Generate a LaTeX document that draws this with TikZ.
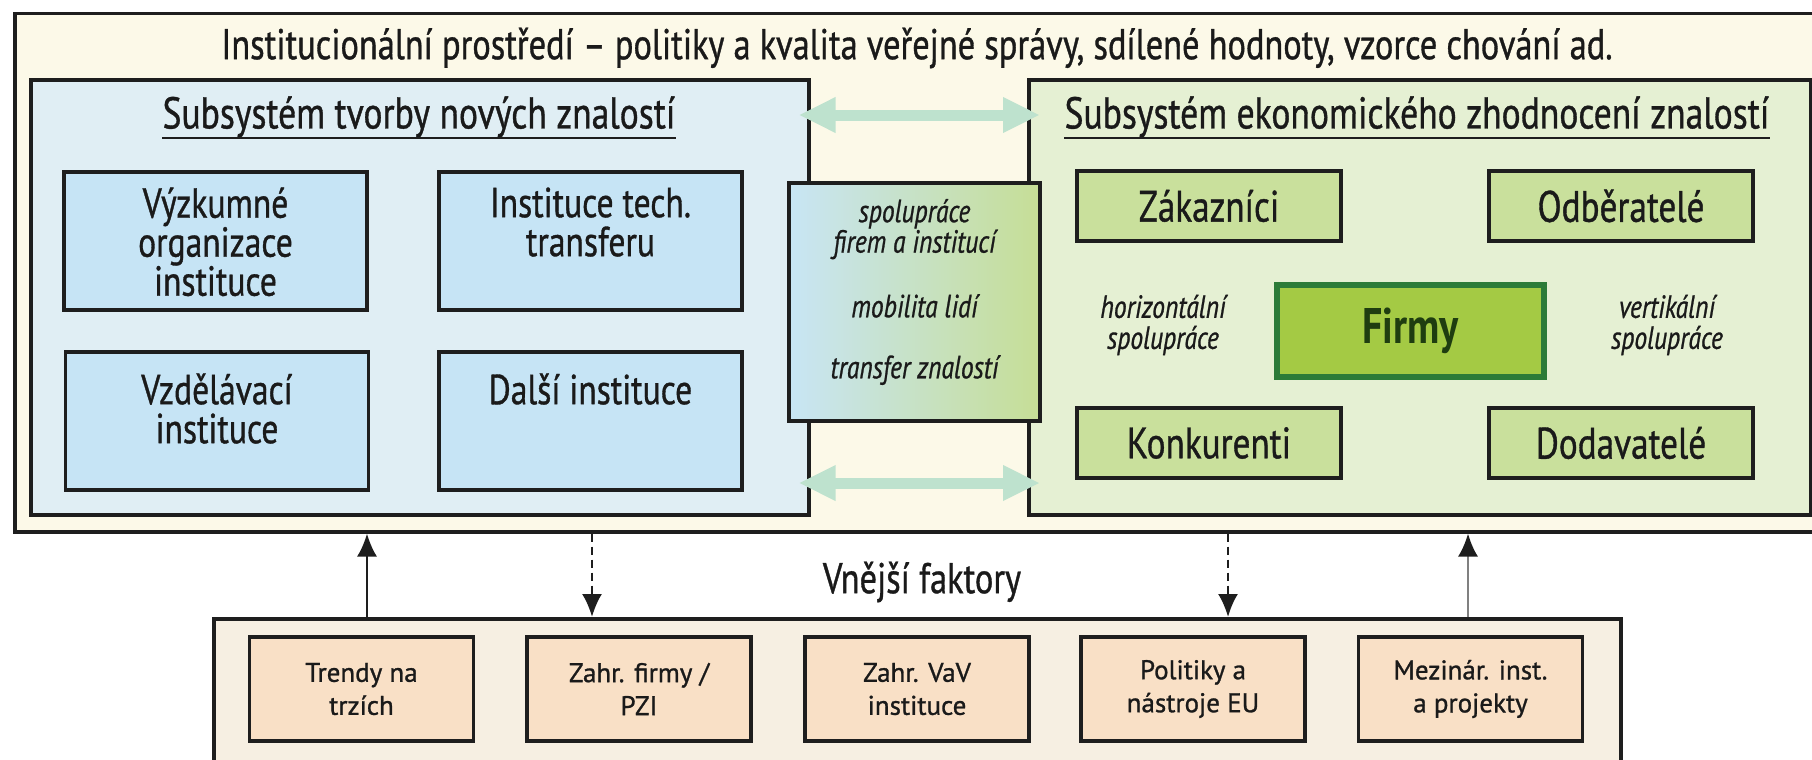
\documentclass[tikz,border=0pt]{standalone}
\usepackage{fontspec}
\setmainfont{PT Sans}[FakeStretch=0.8, UprightFeatures={FakeBold=0.8}, ItalicFeatures={FakeBold=0.8}]
\newfontfamily\extfont{PT Sans}[FakeBold=1]
\usetikzlibrary{positioning,arrows.meta}

\definecolor{edge}{HTML}{1E1E1E}
\definecolor{textcol}{HTML}{1A1A1A}
\definecolor{instback}{HTML}{FCF9E8}
\definecolor{subblue}{HTML}{E0EEF4}
\definecolor{boxblue}{HTML}{C6E4F5}
\definecolor{subgreen}{HTML}{E5F0D3}
\definecolor{boxgreen}{HTML}{C9E09C}
\definecolor{firmfill}{HTML}{A4CA44}
\definecolor{firmedge}{HTML}{2C7B38}
\definecolor{firmtext}{HTML}{1F3D10}
\definecolor{arrowmint}{HTML}{BEE2CE}
\definecolor{extback}{HTML}{F6EFE2}
\definecolor{boxpeach}{HTML}{F9E0C6}
\definecolor{midblue}{HTML}{C8E5F5}
\definecolor{midgreen}{HTML}{C6DE96}

\tikzset{
  bigbox/.style={draw=edge, line width=3.5pt, anchor=north west, inner sep=0pt},
  bluebox/.style={draw=edge, line width=3.5pt, fill=boxblue, minimum width=303pt, minimum height=138pt},
  greenbox/.style={draw=edge, line width=3.5pt, fill=boxgreen, minimum width=264pt, minimum height=70pt,
    text=textcol, font=\fontsize{44}{44}\selectfont},
  firmbox/.style={draw=firmedge, line width=6pt, fill=firmfill, minimum width=267pt, minimum height=92pt,
    text=firmtext, font=\bfseries\fontsize{50}{50}\selectfont},
  midbox/.style={draw=edge, line width=3.5pt, left color=midblue, right color=midgreen,
    minimum width=251pt, minimum height=238pt},
  extsmall/.style={draw=edge, line width=3.5pt, fill=boxpeach, minimum width=224pt, minimum height=104pt,
    align=center, text=textcol, font=\extfont\fontsize{27}{33}\selectfont},
  boxtext/.style={align=center, anchor=north, inner sep=0pt, text=textcol, font=\fontsize{42}{39}\selectfont},
  title/.style={inner sep=0pt, text=textcol, font=\fontsize{43}{44}\selectfont},
  subtitle/.style={inner sep=0pt, text=textcol, font=\fontsize{44.5}{44}\selectfont},
  midtext/.style={align=center, inner sep=0pt, text=textcol, font=\itshape\fontsize{32}{29}\selectfont},
  sidetext/.style={align=center, inner sep=0pt, text=textcol, font=\itshape\fontsize{32}{31}\selectfont},
  dblarrow/.style={draw=arrowmint, line width=11pt,
    {Triangle[length=37pt,width=33pt]}-{Triangle[length=37pt,width=33pt]}},
  uparrow/.style={draw=edge, line width=2.5pt, -{Latex[length=23pt,width=20pt,color=edge]}},
  downarrow/.style={draw=edge, line width=2.5pt, dash pattern=on 8pt off 5pt, -{Latex[length=23pt,width=20pt]}}
}

\begin{document}
\begin{tikzpicture}[x=1pt, y=-1pt]
    \useasboundingbox (0,0) rectangle (1812,760);
    % Containers
    \node[bigbox, fill=instback, minimum width=1817pt, minimum height=518pt] (inst) at (13,12) {};
    \node[bigbox, fill=subblue, minimum width=778pt, minimum height=435pt] (lsub) at (29,78) {};
    \node[bigbox, fill=subgreen, minimum width=782pt, minimum height=435pt] (rsub) at (1027,78) {};
    \node[bigbox, fill=extback, minimum width=1407pt, minimum height=180pt] (ext) at (212,617) {};

    % Titles
    \node[title] (insttitle) at (917,48) {Institucionální prostředí – politiky a kvalita veřejné správy, sdílené hodnoty, vzorce chování ad.};
    \node[subtitle] (ltitle) at (419,117) {Subsystém tvorby nových znalostí};
    \node[subtitle] (rtitle) at (1417,117) {Subsystém ekonomického zhodnocení znalostí};
    \draw[draw=edge, line width=2.5pt] (ltitle.south west) -- (ltitle.south east);
    \draw[draw=edge, line width=2.5pt] (rtitle.south west) -- (rtitle.south east);

    % Knowledge creation
    \node[bluebox] (vyzk) at (215.5,241) {};
    \node[bluebox] (tech) at (590.5,241) {};
    \node[bluebox] (vzdel) at (217,421) {};
    \node[bluebox] (dalsi) at (590.5,421) {};
    \node[boxtext, below=17pt of vyzk.north] (vyzktxt) {Výzkumné\\organizace\\instituce};
    \node[boxtext, below=17pt of tech.north] (techtxt) {Instituce tech.\\transferu};
    \node[boxtext, below=23pt of vzdel.north] (vzdeltxt) {Vzdělávací\\instituce};
    \node[boxtext, below=23pt of dalsi.north] (dalsitxt) {Další instituce};

    % Middle
    \node[midbox] (mid) at (914.5,302) {};
    \node[midtext] (midtxt) at (914.5,292) {spolupráce\\firem a institucí\\[34pt]mobilita lidí\\[32pt]transfer znalostí};

    % Economic use
    \node[greenbox] (zak) at (1209,206) {Zákazníci};
    \node[greenbox] (odb) at (1621,206) {Odběratelé};
    \node[greenbox] (konk) at (1209,443) {Konkurenti};
    \node[greenbox] (dod) at (1621,443) {Dodavatelé};
    \node[firmbox] (firmy) at (1410.5,331) {Firmy};
    \node[sidetext] (horiz) at (1163,325) {horizontální\\spolupráce};
    \node[sidetext] (vert) at (1667,325) {vertikální\\spolupráce};

    % Links between subsystems
    \coordinate (arrhi) at (0,115);
    \coordinate (arrlo) at (0,483);
    \draw[dblarrow] ([xshift=-12pt]lsub.east |- arrhi) -- ([xshift=13pt]rsub.west |- arrhi);
    \draw[dblarrow] ([xshift=-12pt]lsub.east |- arrlo) -- ([xshift=13pt]rsub.west |- arrlo);

    % External factors
    \node[title] (vnejsi) at (922,582) {Vnější faktory};
    \node[extsmall] (trendy) at (361.5,689) {Trendy na\\trzích};
    \node[extsmall] (zahrfirmy) at (639,689) {Zahr. firmy /\\PZI};
    \node[extsmall] (zahrvav) at (917,689) {Zahr. VaV\\instituce};
    \node[extsmall] (politiky) at (1193,689) {Politiky a\\nástroje EU};
    \node[extsmall] (mezinar) at (1470.5,689) {Mezinár. inst.\\a projekty};

    % Edges
    \coordinate (c1) at (367,0);
    \coordinate (c2) at (592,0);
    \coordinate (c3) at (1228,0);
    \coordinate (c4) at (1468,0);
    \draw[uparrow] (ext.north -| c1) -- (inst.south -| c1);
    \draw[downarrow] (inst.south -| c2) -- (ext.north -| c2);
    \draw[downarrow] (inst.south -| c3) -- (ext.north -| c3);
    \draw[uparrow, draw=gray] (ext.north -| c4) -- (inst.south -| c4);
\end{tikzpicture}
\end{document}
